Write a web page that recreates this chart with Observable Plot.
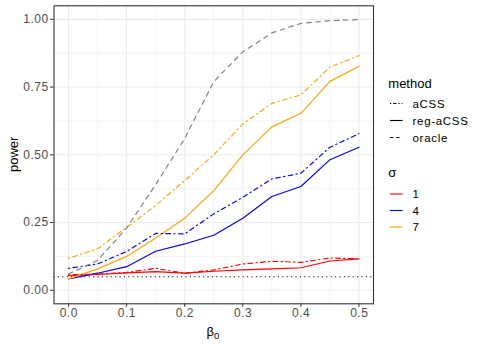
<!DOCTYPE html>
<html>
<head>
<meta charset="utf-8">
<script src="https://cdn.jsdelivr.net/npm/d3@7"></script>
<script src="https://cdn.jsdelivr.net/npm/@observablehq/plot@0.6"></script>
<style>
  html, body { margin: 0; padding: 0; background: white; }
  #chart { width: 486px; height: 347px; }
</style>
</head>
<body>
<div id="chart"></div>
<script>
// ---- data ----
const beta = [0, 0.05, 0.1, 0.15, 0.2, 0.25, 0.3, 0.35, 0.4, 0.45, 0.5];
const methods = ["aCSS", "reg-aCSS", "oracle"];
const sigmas = ["1", "4", "7"];
const sigmaColors = ["red", "blue", "orange"];
const oracleColor = "#7f7f7f";

const oraclePower = [0.06, 0.11, 0.23, 0.39, 0.56, 0.77, 0.88, 0.95, 0.985, 0.995, 0.999];

const aCSS_s1 = [0.057, 0.060, 0.066, 0.081, 0.063, 0.075, 0.097, 0.107, 0.103, 0.119, 0.116];
const aCSS_s4 = [0.081, 0.097, 0.143, 0.210, 0.208, 0.282, 0.343, 0.411, 0.432, 0.528, 0.578];
const aCSS_s7 = [0.118, 0.153, 0.232, 0.313, 0.405, 0.500, 0.614, 0.690, 0.721, 0.824, 0.866];

const reg_s1 = [0.054, 0.058, 0.064, 0.069, 0.063, 0.070, 0.075, 0.079, 0.083, 0.108, 0.116];
const reg_s4 = [0.042, 0.063, 0.087, 0.144, 0.171, 0.203, 0.266, 0.346, 0.383, 0.482, 0.528];
const reg_s7 = [0.042, 0.079, 0.125, 0.193, 0.266, 0.368, 0.500, 0.603, 0.653, 0.771, 0.827];

const alphaLevel = [0.05];

const xTicks = [0, 0.1, 0.2, 0.3, 0.4, 0.5];
const xMinor = [0.05, 0.15, 0.25, 0.35, 0.45];
const yTicks = [0, 0.25, 0.5, 0.75, 1];
const yMinor = [0.125, 0.375, 0.625, 0.875];

// ---- build tables ----
function rows(method, sigma, vals) {
  return vals.map((v, i) => ({beta: beta[i], power: v, method, sigma}));
}
const acssRows = [
  ...rows("aCSS", "1", aCSS_s1),
  ...rows("aCSS", "4", aCSS_s4),
  ...rows("aCSS", "7", aCSS_s7)
];
const regRows = [
  ...rows("reg-aCSS", "1", reg_s1),
  ...rows("reg-aCSS", "4", reg_s4),
  ...rows("reg-aCSS", "7", reg_s7)
];
const oracleRows = rows("oracle", "all", oraclePower);

const FONT = "'Liberation Sans', Arial, Helvetica, sans-serif";
const LW = 1.15;
const dashes = {"aCSS": "1.2,3.4,4.6,3.4", "reg-aCSS": null, "oracle": "4.6,4.6"};

const chart = Plot.plot({
  width: 486,
  height: 347,
  marginLeft: 53.5,
  marginRight: 113,
  marginTop: 5.3,
  marginBottom: 43.7,
  style: {fontFamily: FONT, fontSize: "10px", background: "white", color: "black"},
  x: {domain: [-0.025, 0.525], label: null},
  y: {domain: [-0.05, 1.05], label: null},
  color: {domain: sigmas, range: sigmaColors},
  marks: [
    Plot.ruleY(yMinor, {stroke: "#ebebeb", strokeWidth: 0.6}),
    Plot.ruleX(xMinor, {stroke: "#ebebeb", strokeWidth: 0.6}),
    Plot.ruleY(yTicks, {stroke: "#ebebeb", strokeWidth: 1.1}),
    Plot.ruleX(xTicks, {stroke: "#ebebeb", strokeWidth: 1.1}),
    Plot.ruleY(alphaLevel, {stroke: "black", strokeWidth: 1.1, strokeDasharray: "1.1,3.3"}),
    Plot.line(regRows, {x: "beta", y: "power", z: "sigma", stroke: "sigma", strokeWidth: LW}),
    Plot.line(acssRows, {x: "beta", y: "power", z: "sigma", stroke: "sigma", strokeWidth: LW, strokeDasharray: dashes["aCSS"]}),
    Plot.line(oracleRows, {x: "beta", y: "power", stroke: oracleColor, strokeWidth: LW, strokeDasharray: dashes["oracle"]}),
    Plot.frame({stroke: "#333333", strokeWidth: 1.1}),
    Plot.axisX({ticks: xTicks, tickFormat: d3.format(".1f"), tickSize: 3.5, tickPadding: 1.5, stroke: "#333333", fill: "#4d4d4d", fontSize: 12, label: null}),
    Plot.axisY({ticks: yTicks, tickFormat: d3.format(".2f"), tickSize: 3.5, tickPadding: 1.8, stroke: "#333333", fill: "#4d4d4d", fontSize: 12, label: null})
  ]
});

document.getElementById("chart").appendChild(chart);

// ---- axis titles and legend ----
const svg = d3.select(chart);
svg.selectAll('g[aria-label="x-axis tick label"] text').attr("letter-spacing", "0.5px").attr("dx", "0.25px");
svg.selectAll('g[aria-label="y-axis tick label"] text').attr("letter-spacing", "0.5px");

const g = svg.append("g").attr("font-family", FONT).attr("fill", "black")
  .attr("text-anchor", "start");

g.append("text")
  .attr("transform", "translate(13,154.3) rotate(-90)")
  .attr("text-anchor", "middle")
  .attr("dominant-baseline", "central")
  .attr("font-size", 13)
  .text("power");

const xt = g.append("text")
  .attr("x", 213)
  .attr("y", 336)
  .attr("text-anchor", "middle")
  .attr("font-size", 13);
xt.append("tspan").text("\u03B2");
xt.append("tspan").attr("font-size", 9.5).attr("dy", 3).text("0");

// method legend
g.append("text").attr("x", 388.3).attr("y", 83.5).attr("dominant-baseline", "central")
  .attr("text-anchor", "start").attr("font-size", 13).text("method");
const methodY = [103.5, 120.5, 137.5];
methods.forEach((m, i) => {
  g.append("line").attr("x1", 390).attr("x2", 402.5)
    .attr("y1", methodY[i]).attr("y2", methodY[i])
    .attr("stroke", "black").attr("stroke-width", LW)
    .attr("stroke-dasharray", m === "aCSS" ? "1.2,2,3.2,2" : (m === "oracle" ? "3.2,3" : null));
  g.append("text").attr("x", 412.5).attr("y", methodY[i]).attr("dominant-baseline", "central")
    .attr("text-anchor", "start").attr("font-size", 11.5).attr("letter-spacing", "0.7px").text(m);
});

// sigma legend
g.append("text").attr("x", 388.3).attr("y", 172).attr("dominant-baseline", "central")
  .attr("text-anchor", "start").attr("font-size", 13).text("\u03C3");
const sigY = [194, 210.5, 227];
sigmas.forEach((s, i) => {
  g.append("line").attr("x1", 390).attr("x2", 402.5)
    .attr("y1", sigY[i]).attr("y2", sigY[i])
    .attr("stroke", sigmaColors[i]).attr("stroke-width", LW);
  g.append("text").attr("x", 412.5).attr("y", sigY[i]).attr("dominant-baseline", "central")
    .attr("text-anchor", "start").attr("font-size", 11.5).text(s);
});
</script>
</body>
</html>
